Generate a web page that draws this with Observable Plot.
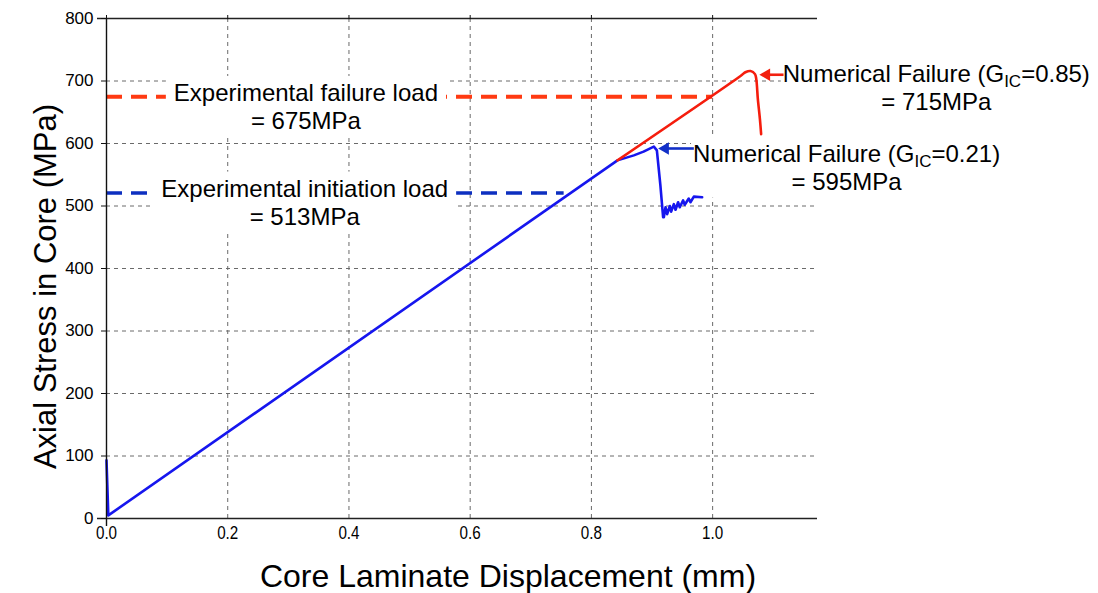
<!DOCTYPE html>
<html>
<head>
<meta charset="utf-8">
<script src="https://cdn.jsdelivr.net/npm/d3@7"></script>
<script src="https://cdn.jsdelivr.net/npm/@observablehq/plot@0.6"></script>
<style>
  html, body { margin: 0; padding: 0; background: #fff; }
</style>
</head>
<body>
<script>
// ---- Data ----
const xTicks = [0.0, 0.2, 0.4, 0.6, 0.8, 1.0];
const yTicks = [0, 100, 200, 300, 400, 500, 600, 700, 800];
const gridXTicks = [0.2, 0.4, 0.6, 0.8, 1.0];
const gridYTicks = [100, 200, 300, 400, 500, 600, 700];

// Numerical response, G_IC = 0.21 (blue)
const blueX = [0.0, 0.003, 0.843, 0.870, 0.886, 0.903, 0.908, 0.9138, 0.9183,
  0.9195, 0.9223, 0.925, 0.9294, 0.9316, 0.936, 0.9388, 0.943, 0.9458, 0.9513,
  0.954, 0.9606, 0.9634, 0.969, 0.9827];
const blueY = [93, 5, 573, 581, 587, 595, 589, 533, 482,
  482, 498, 487, 500, 491, 503, 494, 506, 498, 509,
  502, 512, 506, 515, 514];

// Numerical response, G_IC = 0.85 (red)
const redX = [0.843, 1.046, 1.054, 1.0626, 1.0699, 1.072, 1.0746, 1.078, 1.080];
const redY = [573, 708, 714, 716, 711, 703, 671, 639, 615];

// Experimental loads (dashed)
const expFailLoad = 675;
const expFailEnd = 1.0;
const expInitLoad = 521;
const expInitEnd = 0.755;

// Annotations
const labelText = [
  "Experimental failure load\n= 675MPa",
  "Experimental initiation load\n= 513MPa",
  "Numerical Failure (G_IC=0.85)\n= 715MPa",
  "Numerical Failure (G_IC=0.21)\n= 595MPa"
];
const labelX = [0.329, 0.327, 1.369, 1.221];
const labelY = [660, 507, 690, 563];
const labelPad = [8, 8, 2, 2];

const arrowX1 = [1.117, 0.969];
const arrowX2 = [1.084, 0.917];
const arrowY = [710, 592];
const arrowColor = ["#f2200f", "#1230c8"];

const xTitle = "Core Laminate Displacement (mm)";
const yTitle = "Axial Stress in Core (MPa)";

// ---- Build tables ----
const blue = blueX.map((x, i) => ({x, y: blueY[i]}));
const red = redX.map((x, i) => ({x, y: redY[i]}));
const labels = labelText.map((t, i) => ({t, x: labelX[i], y: labelY[i]}));
const arrows = arrowX1.map((x1, i) => ({x1, x2: arrowX2[i], y: arrowY[i], c: arrowColor[i]}));

const chart = Plot.plot({
  width: 1098,
  height: 593,
  marginLeft: 106,
  marginRight: 281,
  marginTop: 18,
  marginBottom: 75,
  style: {fontFamily: "'Liberation Sans', Arial, sans-serif", background: "#fff", color: "#111"},
  x: {domain: [0, 1.173]},
  y: {domain: [0, 800]},
  color: {type: "identity"},
  marks: [
    Plot.gridX({ticks: gridXTicks, stroke: "#6a6a6a", strokeOpacity: 1, strokeDasharray: "4,4"}),
    Plot.gridY({ticks: gridYTicks, stroke: "#6a6a6a", strokeOpacity: 1, strokeDasharray: "4,4"}),
    Plot.ruleY([expFailLoad], {x1: 0, x2: expFailEnd, stroke: "#ff3a12", strokeWidth: 4, strokeDasharray: "16,9"}),
    Plot.ruleY([expInitLoad], {x1: 0, x2: expInitEnd, stroke: "#0d2fc0", strokeWidth: 3.5, strokeDasharray: "16,9"}),
    Plot.text(labels, {x: "x", y: "y", text: "t", fontSize: 24, lineHeight: 1.17, fill: "#000"}),
    Plot.line(blue, {x: "x", y: "y", stroke: "#1616ee", strokeWidth: 2.6, curve: "linear"}),
    Plot.line(red, {x: "x", y: "y", stroke: "#f51d0d", strokeWidth: 2.6, curve: "catmull-rom"}),
    Plot.link(arrows, {x1: "x1", x2: "x2", y1: "y", y2: "y", stroke: "c", strokeWidth: 2.6}),
    Plot.dot(arrows, {x: "x2", y: "y", fill: "c", symbol: "triangle", r: 4.6, rotate: -90, dx: 3, stroke: null}),
    Plot.ruleY([0, 800], {stroke: "#222", strokeWidth: 1.4, insetLeft: -9}),
    Plot.ruleX([0], {stroke: "#111", strokeWidth: 1.4, insetBottom: -8}),
    Plot.axisY({ticks: yTicks, tickSize: 5, tickPadding: 8, fontSize: 17, label: null, tickFormat: d3.format("d"), fill: "#000"}),
    Plot.axisX({ticks: xTicks, tickSize: 0, tickPadding: 7, fontSize: 19, label: null, tickFormat: d3.format(".1f"), fill: "#000"}),
    Plot.axisX({anchor: "top", ticks: xTicks, tickSize: 4, tickFormat: () => "", label: null}),
    Plot.text([yTitle], {frameAnchor: "left", textAnchor: "middle", lineAnchor: "middle", rotate: -90, dx: -60, dy: 18, fontSize: 31, fill: "#000"}),
    Plot.text([xTitle], {frameAnchor: "bottom", textAnchor: "middle", lineAnchor: "middle", dx: 46, dy: 58, fontSize: 32, fill: "#000"})
  ]
});

document.body.append(chart);

const svg = d3.select(chart);

// Subscripts and white label boxes
const labelIndex = new Map(labelText.map((t, i) => [t.replace("\n", ""), i]));
svg.selectAll("text").filter(function () { return labelIndex.has(this.textContent); }).each(function () {
  const textEl = this;
  const idx = labelIndex.get(textEl.textContent);
  d3.select(textEl).selectAll("tspan").each(function () {
    const s = this.textContent;
    if (s.includes("_IC")) {
      const [a, b] = s.split("_IC");
      const ts = d3.select(this);
      ts.text(null);
      ts.append("tspan").text(a);
      ts.append("tspan").attr("font-size", 17).attr("dy", 5).text("IC");
      ts.append("tspan").attr("dy", -5).text(b);
    }
  });
  const bb = textEl.getBBox();
  const padX = labelPad[idx], padY = 3;
  d3.select(textEl.parentNode).insert("rect", () => textEl)
    .attr("x", bb.x - padX).attr("y", bb.y - padY)
    .attr("width", bb.width + 2 * padX).attr("height", bb.height + 2 * padY)
    .attr("fill", "#fff")
    .attr("transform", textEl.getAttribute("transform"));
});

// Condensed look for the x-axis tick labels
const xTickSet = new Set(xTicks.map(d3.format(".1f")));
svg.selectAll("text").filter(function () {
  const g = this.closest("g");
  return xTickSet.has(this.textContent) && g && /x-axis/.test(g.getAttribute("aria-label") || "");
}).each(function () {
  const w = this.getComputedTextLength();
  d3.select(this).attr("textLength", w * 0.8).attr("lengthAdjust", "spacingAndGlyphs");
});
</script>
</body>
</html>
